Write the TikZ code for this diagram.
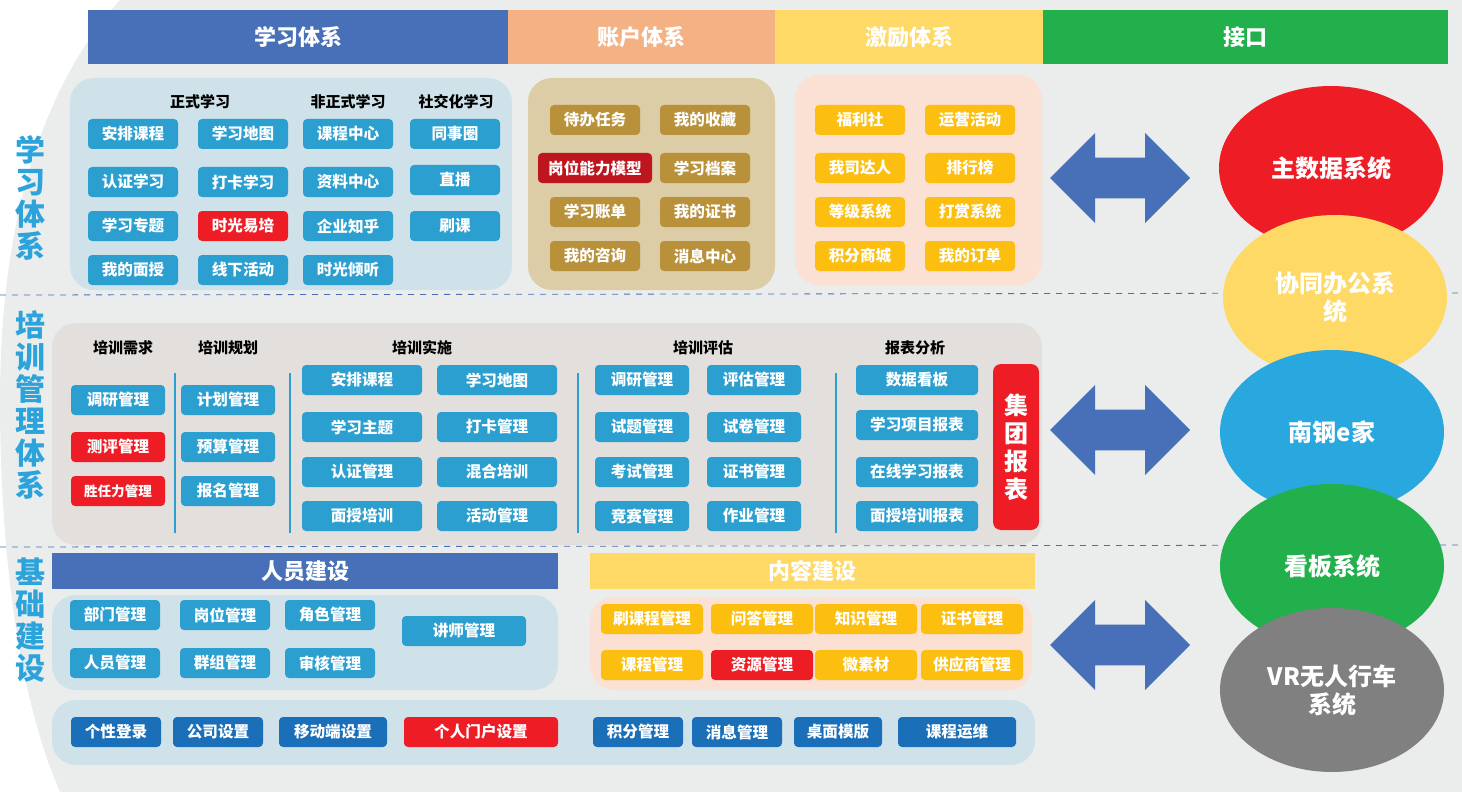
\documentclass[tikz,border=0pt]{standalone}
\usepackage{fontspec}
\setmainfont{Noto Sans CJK SC}
\usetikzlibrary{shapes.arrows,shapes.geometric}
\definecolor{hdblue}{HTML}{4770B8}
\definecolor{hdorange}{HTML}{F4B183}
\definecolor{hdyellow}{HTML}{FED966}
\definecolor{hdgreen}{HTML}{21B04B}
\definecolor{btblue}{HTML}{2A9FD0}
\definecolor{btdark}{HTML}{1A6FB8}
\definecolor{btred}{HTML}{EE1C25}
\definecolor{btgold}{HTML}{B8913A}
\definecolor{btyellow}{HTML}{FCBF10}
\definecolor{pnblue}{HTML}{CFE2EA}
\definecolor{pntan}{HTML}{DCCDA6}
\definecolor{pnpink}{HTML}{FBE0D4}
\definecolor{pngray}{HTML}{E2DFDC}
\definecolor{bggray}{HTML}{EBEDEC}
\definecolor{sidetext}{HTML}{2DA3DC}
\definecolor{elblue}{HTML}{29A8E0}
\definecolor{elgray}{HTML}{808080}
\tikzset{
  btn/.style={fill=btblue, text=white, rounded corners=2pt, minimum height=15pt,
    inner sep=0pt, font=\fontsize{7.8}{9}\selectfont\bfseries},
  head/.style={text=white, minimum height=27pt, inner sep=0pt,
    font=\fontsize{11}{13}\selectfont\bfseries},
  panel/.style={rounded corners=12pt},
  sub/.style={font=\fontsize{7.5}{9}\selectfont\bfseries},
  side/.style={text=sidetext, align=center, font=\fontsize{15}{16}\selectfont\bfseries},
  bigarrow/.style={double arrow, fill=hdblue, minimum width=45pt, minimum height=70pt,
    double arrow head extend=10pt, inner sep=8pt},
  sysell/.style={ellipse, minimum width=112pt, minimum height=82pt, text=white, align=center,
    font=\fontsize{12}{14}\selectfont\bfseries}
}
\begin{document}
\begin{tikzpicture}[x=0.5pt, y=-0.5pt]
  \useasboundingbox (0,0) rectangle (1462,792);
  % background
  \fill[bggray] (120,0) .. controls (30,100) and (0,250) .. (0,400)
    .. controls (0,560) and (20,700) .. (60,792) -- (1462,792) -- (1462,0) -- cycle;
  \draw[hdblue, dashed, thin] (0,295) -- (1462,293);
  \draw[hdblue, dashed, thin] (0,547) -- (1462,545);
  % top headers
  \node[head, fill=hdblue, minimum width=210pt] (hlearn) at (298,37) {学习体系};
  \node[head, fill=hdorange, minimum width=133.5pt] (hacct) at (641.5,37) {账户体系};
  \node[head, fill=hdyellow, minimum width=134pt] (hincent) at (909,37) {激励体系};
  \node[head, fill=hdgreen, minimum width=202.5pt] (hapi) at (1245.5,37) {接口};
  % side labels
  \node[side] (slearn) at (30,198) {学\\习\\体\\系};
  \node[side] (strain) at (30,405) {培\\训\\管\\理\\体\\系};
  \node[side] (sbase) at (30,620) {基\\础\\建\\设};
  % panels
  \fill[panel, pnblue] (70,78) rectangle (512,290);
  \fill[panel, pntan] (528,78) rectangle (775,290);
  \fill[panel, pnpink] (795,75) rectangle (1042,285);
  \fill[panel, pngray] (52,323) rectangle (1042,545);
  \fill[panel, pnblue] (52,595) rectangle (558,690);
  \fill[panel, pnpink] (590,597) rectangle (1032,690);
  \fill[panel, pnblue] (52,700) rectangle (1035,765);
  % learning system
  \node[sub] (t1) at (200,102) {正式学习};
  \node[sub] (t2) at (348,102) {非正式学习};
  \node[sub] (t3) at (456,102) {社交化学习};
  \foreach \x/\y/\t [count=\i] in {133/134/安排课程, 243/134/学习地图, 348/134/课程中心, 455/134/同事圈,
      133/182/认证学习, 243/182/打卡学习, 348/182/资料中心, 455/180/直播,
      133/226/学习专题, 348/226/企业知乎, 455/226/刷课,
      133/270/我的面授, 243/270/线下活动, 348/270/时光倾听}
    \node[btn, minimum width=45pt] (ls\i) at (\x,\y) {\t};
  \node[btn, fill=btred, minimum width=45pt] (lsred) at (243,226) {时光易培};
  % account system
  \foreach \x/\y/\t [count=\i] in {595/120/待办任务, 705/120/我的收藏, 705/168/学习档案,
      595/212/学习账单, 705/212/我的证书, 595/256/我的咨询, 705/256/消息中心}
    \node[btn, fill=btgold, minimum width=45pt] (ac\i) at (\x,\y) {\t};
  \node[btn, fill=btred!80!black, minimum width=57pt] (acred) at (595,168) {岗位能力模型};
  % incentive system
  \foreach \x/\y/\t [count=\i] in {860/120/福利社, 970/120/运营活动, 860/168/我司达人, 970/168/排行榜,
      860/212/等级系统, 970/212/打赏系统, 860/256/积分商城, 970/256/我的订单}
    \node[btn, fill=btyellow, minimum width=45pt] (in\i) at (\x,\y) {\t};
  % training management
  \node[sub] (u1) at (123,348) {培训需求};
  \node[sub] (u2) at (228,348) {培训规划};
  \node[sub] (u3) at (422,348) {培训实施};
  \node[sub] (u4) at (703,348) {培训评估};
  \node[sub] (u5) at (915,348) {报表分析};
  \foreach \x in {175,290,578,836}
    \draw[btblue, thick] (\x,373) -- (\x,533);
  \node[btn, minimum width=47pt] (tr1) at (118,400) {调研管理};
  \node[btn, fill=btred, minimum width=47pt] (tr2) at (118,447) {测评管理};
  \node[btn, fill=btred, minimum width=47pt, font=\fontsize{6.8}{8}\selectfont\bfseries] (tr3) at (118,491) {胜任力管理};
  \foreach \y/\t [count=\i] in {400/计划管理, 447/预算管理, 491/报名管理}
    \node[btn, minimum width=47pt] (tp\i) at (228,\y) {\t};
  \foreach \x/\y/\t [count=\i] in {362/380/安排课程, 497/380/学习地图, 362/427/学习主题, 497/427/打卡管理,
      362/472/认证管理, 497/472/混合培训, 362/516/面授培训, 497/516/活动管理}
    \node[btn, minimum width=60pt] (ti\i) at (\x,\y) {\t};
  \foreach \x/\y/\t [count=\i] in {642/380/调研管理, 754/380/评估管理, 642/427/试题管理, 754/427/试卷管理,
      642/472/考试管理, 754/472/证书管理, 642/516/竞赛管理, 754/516/作业管理}
    \node[btn, minimum width=47pt] (te\i) at (\x,\y) {\t};
  \foreach \y/\t [count=\i] in {380/数据看板, 425/学习项目报表, 472/在线学习报表, 516/面授培训报表}
    \node[btn, minimum width=61pt] (tr\i) at (917,\y) {\t};
  \node[btn, fill=btred, minimum width=23pt, minimum height=83pt, rounded corners=4pt, align=center,
    font=\fontsize{12}{14}\selectfont\bfseries] (group) at (1016,447) {集\\团\\报\\表};
  % base construction
  \node[head, fill=hdblue, minimum width=253pt, minimum height=18pt] (hpeople) at (305,571) {人员建设};
  \node[head, fill=hdyellow, minimum width=222.5pt, minimum height=18pt] (hcontent) at (812,571) {内容建设};
  \foreach \x/\y/\t [count=\i] in {115/615/部门管理, 225/615/岗位管理, 330/615/角色管理,
      115/663/人员管理, 225/663/群组管理, 330/663/审核管理}
    \node[btn, minimum width=45pt] (bp\i) at (\x,\y) {\t};
  \node[btn, minimum width=62pt] (bteach) at (464,631) {讲师管理};
  \foreach \x/\y/\t [count=\i] in {652/619/刷课程管理, 762/619/问答管理, 866/619/知识管理, 972/619/证书管理,
      652/665/课程管理, 866/665/微素材, 972/665/供应商管理}
    \node[btn, fill=btyellow, minimum width=51pt] (bc\i) at (\x,\y) {\t};
  \node[btn, fill=btred, minimum width=51pt] (bcred) at (762,665) {资源管理};
  \foreach \x/\w/\t [count=\i] in {116/45/个性登录, 218/45/公司设置, 333/54/移动端设置,
      638/45/积分管理, 737/45/消息管理, 838/44/桌面模版, 957/59/课程运维}
    \node[btn, fill=btdark, minimum width=\w pt] (bs\i) at (\x,732) {\t};
  \node[btn, fill=btred, minimum width=77pt] (bsred) at (481,732) {个人门户设置};
  % arrows
  \node[bigarrow] (arr1) at (1120,178) {};
  \node[bigarrow] (arr2) at (1120,430) {};
  \node[bigarrow] (arr3) at (1120,645) {};
  % interface systems
  \node[sysell, fill=btred] (sys1) at (1331,168) {主数据系统};
  \node[sysell, fill=hdyellow] (sys2) at (1335,297) {协同办公系\\统};
  \node[sysell, fill=elblue] (sys3) at (1332,432) {南钢e家};
  \node[sysell, fill=hdgreen] (sys4) at (1332,566) {看板系统};
  \node[sysell, fill=elgray] (sys5) at (1332,690) {VR无人行车\\系统};
\end{tikzpicture}
\end{document}
